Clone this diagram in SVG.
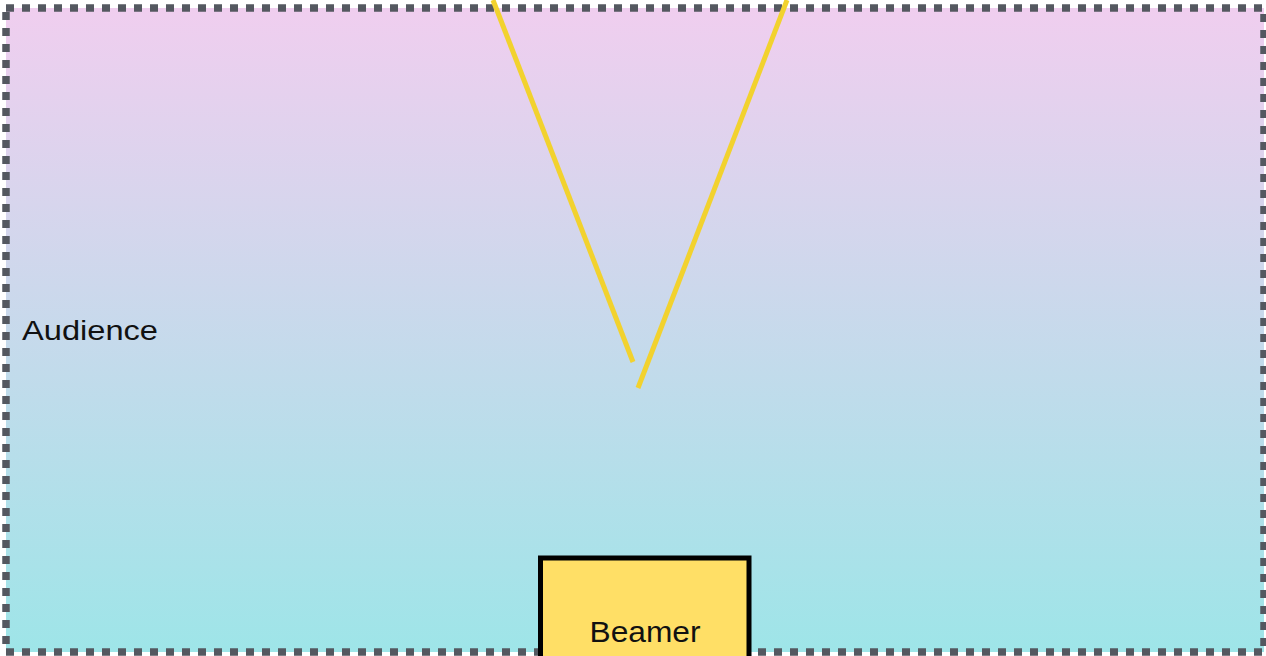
<svg xmlns="http://www.w3.org/2000/svg" width="1266" height="656" viewBox="0 0 1266 656">
  <style>
    .label { font-family: "Helvetica Neue", "Liberation Sans", Arial, sans-serif; fill: #111; }
    .beam { stroke: #F2D22E; stroke-width: 5; fill: none; stroke-linecap: butt; }
  </style>
  <defs>
    <linearGradient id="bg" x1="0" y1="0" x2="0" y2="1">
      <stop offset="0" stop-color="#F0CEEF"/>
      <stop offset="1" stop-color="#9EE5E8"/>
    </linearGradient>
  </defs>
  <rect width="1266" height="656" fill="#FFFFFF"/>
  <g id="audience">
    <rect x="6" y="8" width="1258" height="644" fill="url(#bg)" stroke="#545860" stroke-width="7.5" stroke-dasharray="8 8"/>
    <text class="label" x="22" y="340" font-size="28" textLength="136" lengthAdjust="spacingAndGlyphs">Audience</text>
  </g>
  <g id="connectors">
    <line class="beam" x1="493" y1="0" x2="633" y2="362"/>
    <line class="beam" x1="787" y1="0" x2="638" y2="388"/>
  </g>
  <g id="beamer">
    <rect x="540.5" y="558" width="208.5" height="110" fill="#FFDF66" stroke="#000" stroke-width="5"/>
    <text class="label" x="645" y="642" font-size="30" text-anchor="middle" textLength="111" lengthAdjust="spacingAndGlyphs">Beamer</text>
  </g>
</svg>
